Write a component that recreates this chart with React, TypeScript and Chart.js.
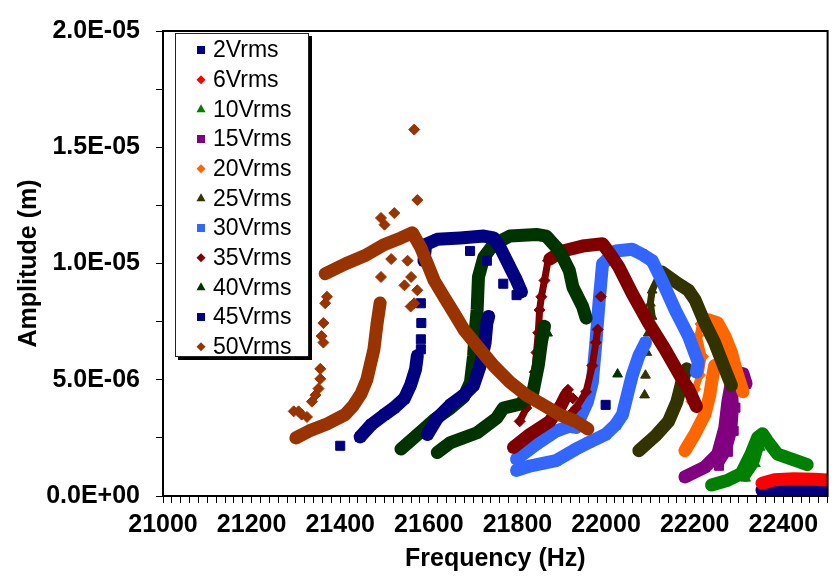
import React, { useEffect, useRef } from 'react';
import { Chart, registerables } from 'chart.js';

Chart.register(...registerables);

// Each point: [frequency (Hz), amplitude (µm, i.e. ×1E-06 m)]
type Pt = [number, number];

// ---- axis settings ----
const X_MIN = 21000;
const X_MAX = 22500;
const X_STEP = 20;
const X_LABEL_STEP = 200;
const Y_MIN = 0;
const Y_MAX = 20;
const Y_STEP = 2.5;
const Y_LABEL_STEP = 5;
const X_TITLE = 'Frequency (Hz)';
const Y_TITLE = 'Amplitude (m)';

// ---- 2Vrms ----
const v2Band: Pt[] = [[22352, 0.25], [22390, 0.25], [22424, 0.25], [22470, 0.25], [22510, 0.25]];

// ---- 6Vrms ----
const v6Band: Pt[] = [[22352, 0.55], [22380, 0.7], [22424, 0.74], [22469, 0.72], [22510, 0.68]];

// ---- 10Vrms ----
const v10Band: Pt[] = [[22238, 0.47], [22275, 0.68], [22305, 0.96], [22327, 1.8], [22342, 2.51], [22353, 2.68], [22364, 2.37], [22387, 1.8], [22424, 1.55], [22454, 1.35]];
const v10Inner: Pt[] = [[22315, 0.76], [22337, 1.38], [22348, 2.09]];

// ---- 15Vrms ----
const v15Band: Pt[] = [[22178, 0.82], [22223, 1.24], [22252, 1.8], [22268, 2.93], [22275, 4.06], [22283, 4.9], [22294, 5.33], [22309, 5.26], [22316, 4.83]];
const v15Inner: Pt[] = [[22255, 1.3], [22275, 1.9], [22288, 2.8], [22292, 3.8], [22290, 4.5]];

// ---- 20Vrms ----
const v20Lower: Pt[] = [[22178, 1.95], [22200, 2.65], [22223, 3.5], [22234, 4.34], [22241, 5.19], [22245, 5.61]];
const v20Upper: Pt[] = [[22230, 7.58], [22252, 7.44], [22268, 6.88], [22283, 6.17], [22297, 5.19], [22309, 4.48]];
const v20Jump: Pt[] = [[22213, 7.4], [22208, 6.9], [22219, 6.0], [22212, 5.2], [22201, 4.6], [22193, 4.06]];

// ---- 25Vrms ----
const v25Lower: Pt[] = [[22074, 1.95], [22111, 2.58], [22141, 3.21], [22160, 4.06], [22171, 4.9], [22182, 5.47]];
const v25Upper: Pt[] = [[22126, 9.63], [22163, 9.13], [22186, 8.85], [22201, 8.43], [22223, 7.44], [22245, 6.6], [22268, 5.47], [22283, 4.76]];
const v25Jump: Pt[] = [[22120, 9.5], [22104, 8.85], [22100, 8.29], [22104, 7.72]];
const v25Dots: Pt[] = [[22095, 7.0], [22092, 6.17], [22089, 5.19], [22087, 4.34]];

// ---- 30Vrms ----
const v30Lower: Pt[] = [[21798, 1.1], [21830, 1.3], [21887, 1.52], [21932, 2.02], [21961, 2.3], [21999, 2.65], [22022, 3.07], [22037, 3.5], [22048, 4.35], [22059, 5.19], [22074, 6.03], [22089, 6.6]];
const v30Upper: Pt[] = [[21798, 1.59], [21843, 2.23], [21887, 2.79], [21917, 3.0], [21932, 2.95], [21958, 4.06], [21969, 4.9], [21977, 6.6], [21984, 8.29], [21992, 9.98], [22022, 10.54], [22059, 10.61], [22081, 10.4], [22104, 10.12], [22126, 9.27], [22156, 8.0], [22186, 6.88], [22208, 5.75], [22204, 5.33]];

// ---- 35Vrms ----
const v35Lower: Pt[] = [[21791, 2.09], [21828, 2.65], [21873, 3.21], [21899, 3.92], [21910, 4.34]];
const v35Upper: Pt[] = [[21873, 10.19], [21902, 10.54], [21947, 10.75], [21992, 10.85], [22007, 10.47], [22029, 9.84], [22059, 8.71], [22096, 7.44], [22133, 6.31], [22171, 5.04], [22186, 4.62], [22204, 3.85]];
const v35Rise: Pt[] = [[21805, 3.21], [21820, 3.78], [21832, 4.48], [21839, 5.33], [21843, 6.17], [21847, 7.02], [21850, 8.0], [21854, 8.57], [21861, 9.27], [21869, 10.12]];
const v35Rise2: Pt[] = [[21921, 3.55], [21932, 3.78], [21955, 4.48], [21969, 5.61], [21977, 6.6], [21981, 7.16]];
const v35Dots: Pt[] = [[21988, 8.58], [21914, 4.57], [21925, 4.2]];

// ---- 40Vrms ----
const v40Upper: Pt[] = [[21537, 2.02], [21575, 2.65], [21612, 3.28], [21649, 3.78], [21679, 4.27], [21694, 4.9], [21701, 6.03], [21705, 7.16], [21709, 8.0], [21712, 9.42], [21724, 10.26], [21746, 10.82], [21783, 11.18], [21843, 11.25], [21865, 11.18], [21895, 10.54], [21917, 9.7], [21925, 8.99], [21947, 8.15], [21955, 7.65]];
const v40Lower: Pt[] = [[21619, 1.87], [21649, 2.3], [21709, 2.72], [21753, 3.35], [21768, 3.78], [21805, 3.95], [21835, 4.48], [21847, 5.61], [21854, 6.6], [21861, 7.3]];
const v40Dots: Pt[] = [[22026, 5.24], [21868, 7.0]];

// ---- 45Vrms ----
const v45Lower: Pt[] = [[21445, 2.54], [21470, 3.07], [21500, 3.5], [21522, 3.8], [21545, 4.2], [21559, 4.78], [21570, 5.45], [21574, 6.03]];
const v45Lower2: Pt[] = [[21597, 2.65], [21619, 3.35], [21649, 3.92], [21679, 4.34], [21701, 4.76], [21716, 5.61], [21727, 6.6], [21731, 7.44], [21735, 7.72]];
const v45Upper: Pt[] = [[21589, 10.12], [21593, 10.82], [21619, 11.04], [21671, 11.1], [21724, 11.18], [21746, 11.1], [21761, 10.68], [21783, 9.84], [21798, 9.27], [21809, 8.78]];
const v45Dots: Pt[] = [[21400, 2.16], [21582, 8.29], [21583, 7.44], [21582, 6.74], [21582, 6.31], [21693, 10.54], [21731, 10.12], [21768, 9.13], [21798, 8.64], [21999, 3.92]];

// ---- 50Vrms ----
const v50Lower: Pt[] = [[21300, 2.5], [21330, 2.8], [21370, 3.1], [21411, 3.5], [21430, 3.9], [21447, 4.4], [21460, 5.0], [21476, 6.3], [21483, 7.4], [21490, 8.3]];
const v50Upper: Pt[] = [[21366, 9.56], [21411, 9.98], [21455, 10.33], [21500, 10.82], [21537, 11.1], [21563, 11.32], [21582, 10.68], [21597, 9.98], [21612, 9.27], [21634, 8.57], [21657, 7.86], [21679, 7.16], [21709, 6.46], [21746, 5.61], [21783, 4.9], [21820, 4.34], [21858, 3.92], [21895, 3.5], [21932, 3.21], [21959, 2.88]];
const v50Dots: Pt[] = [[21295, 3.64], [21306, 3.64], [21313, 3.5], [21325, 3.4], [21336, 4.06], [21344, 4.34], [21351, 4.62], [21355, 5.04], [21355, 5.47], [21362, 6.6], [21358, 6.88], [21362, 7.44], [21366, 8.29], [21370, 8.57], [21489, 8.15], [21485, 7.74], [21492, 9.42], [21515, 10.19], [21492, 11.96], [21522, 12.17], [21500, 11.67], [21574, 12.73], [21567, 15.76], [21552, 10.12], [21560, 9.42], [21574, 8.85], [21567, 8.29], [21559, 8.15], [21545, 9.06]];

type Shape = 'rect' | 'rectRot' | 'triangle';
interface Series {
  label: string;
  color: string;
  shape: Shape;
  bands: Pt[][];
  thin: Pt[][];
  dots: Pt[];
}

const SERIES: Series[] = [
  { label: '2Vrms', color: '#000080', shape: 'rect', bands: [v2Band], thin: [], dots: [] },
  { label: '6Vrms', color: '#FF0000', shape: 'rectRot', bands: [v6Band], thin: [], dots: [] },
  { label: '10Vrms', color: '#008000', shape: 'triangle', bands: [v10Band], thin: [v10Inner], dots: [] },
  { label: '15Vrms', color: '#800080', shape: 'rect', bands: [v15Band], thin: [v15Inner], dots: [] },
  { label: '20Vrms', color: '#FF6600', shape: 'rectRot', bands: [v20Lower, v20Upper], thin: [v20Jump], dots: [] },
  { label: '25Vrms', color: '#333300', shape: 'triangle', bands: [v25Lower, v25Upper], thin: [v25Jump], dots: v25Dots },
  { label: '30Vrms', color: '#3366FF', shape: 'rect', bands: [v30Lower, v30Upper], thin: [], dots: [] },
  { label: '35Vrms', color: '#800000', shape: 'rectRot', bands: [v35Lower, v35Upper], thin: [v35Rise, v35Rise2], dots: v35Dots },
  { label: '40Vrms', color: '#003300', shape: 'triangle', bands: [v40Upper, v40Lower], thin: [], dots: v40Dots },
  { label: '45Vrms', color: '#000080', shape: 'rect', bands: [v45Lower, v45Lower2, v45Upper], thin: [], dots: v45Dots },
  { label: '50Vrms', color: '#993300', shape: 'rectRot', bands: [v50Lower, v50Upper], thin: [], dots: v50Dots },
];

const FONT = '"Liberation Sans", Arial, Helvetica, sans-serif';

const radiusFor = (shape: Shape) => (shape === 'rect' ? 6.4 : shape === 'rectRot' ? 5.5 : 5.6);

function sci(v: number): string {
  if (Math.abs(v) < 1e-9) return '0.0E+00';
  const e = Math.floor(Math.log10(v) + 1e-9);
  const mant = v / Math.pow(10, e);
  const exp = e - 6;
  return `${mant.toFixed(1)}E${exp < 0 ? '-' : '+'}${String(Math.abs(exp)).padStart(2, '0')}`;
}

const toXY = (pts: Pt[]) => pts.map(([x, y]) => ({ x, y }));

function buildDatasets() {
  const out: any[] = [];
  // later series are drawn on top: Chart.js draws dataset 0 last
  for (let i = SERIES.length - 1; i >= 0; i--) {
    const s = SERIES[i];
    const common = {
      label: s.label,
      pointStyle: s.shape,
      pointRadius: radiusFor(s.shape),
      pointHoverRadius: radiusFor(s.shape),
      pointBackgroundColor: s.color,
      pointBorderColor: s.color,
      pointBorderWidth: 1,
      borderColor: s.color,
      backgroundColor: s.color,
      clip: 0,
    };
    s.dots.length && out.push({ ...common, data: toXY(s.dots), showLine: false });
    s.thin.forEach((b) =>
      out.push({ ...common, data: toXY(b), showLine: true, borderWidth: 7, borderJoinStyle: 'round', borderCapStyle: 'round', tension: 0 })
    );
    s.bands.forEach((b) =>
      out.push({ ...common, data: toXY(b), showLine: true, borderWidth: 13, borderJoinStyle: 'round', borderCapStyle: 'round', tension: 0 })
    );
  }
  return out;
}

function drawMarker(ctx: CanvasRenderingContext2D, shape: Shape, x: number, y: number, color: string) {
  ctx.fillStyle = color;
  ctx.beginPath();
  if (shape === 'rect') {
    ctx.rect(x - 4, y - 4, 8, 8);
  } else if (shape === 'rectRot') {
    ctx.moveTo(x - 4.5, y);
    ctx.lineTo(x, y - 4.5);
    ctx.lineTo(x + 4.5, y);
    ctx.lineTo(x, y + 4.5);
    ctx.closePath();
  } else {
    ctx.moveTo(x, y - 5);
    ctx.lineTo(x + 4.5, y + 3);
    ctx.lineTo(x - 4.5, y + 3);
    ctx.closePath();
  }
  ctx.fill();
}

const framePlugin = {
  id: 'plotFrame',
  afterDatasetsDraw(chart: any) {
    const { ctx, chartArea: a } = chart;
    ctx.save();
    ctx.strokeStyle = '#000';
    ctx.lineWidth = 2;
    ctx.strokeRect(a.left, a.top, a.right - a.left, a.bottom - a.top);
    ctx.restore();
  },
};

const legendPlugin = {
  id: 'boxLegend',
  afterDraw(chart: any) {
    const ctx: CanvasRenderingContext2D = chart.ctx;
    const x0 = 175;
    const y0 = 33;
    const w = 134;
    const h = 324;
    ctx.save();
    ctx.fillStyle = '#000';
    ctx.fillRect(x0 + 3, y0 + 3, w, h);
    ctx.fillStyle = '#fff';
    ctx.fillRect(x0, y0, w, h);
    ctx.strokeStyle = '#222';
    ctx.lineWidth = 1;
    ctx.strokeRect(x0 + 0.5, y0 + 0.5, w - 1, h - 1);
    ctx.font = `23px ${FONT}`;
    ctx.textBaseline = 'middle';
    ctx.textAlign = 'left';
    SERIES.forEach((s, i) => {
      const cy = y0 + 17 + i * 29.67;
      drawMarker(ctx, s.shape, 201, cy, s.color);
      ctx.fillStyle = '#000';
      ctx.fillText(s.label, 213, cy + 1);
    });
    ctx.restore();
  },
};

export default function App() {
  const ref = useRef<HTMLCanvasElement | null>(null);

  useEffect(() => {
    if (!ref.current) return;
    const tickFont = { family: FONT, size: 25, weight: 'bold' as const };
    const chart = new Chart(ref.current, {
      type: 'scatter',
      data: { datasets: buildDatasets() },
      options: {
        responsive: false,
        devicePixelRatio: 1,
        animation: false,
        events: [],
        layout: { padding: { left: 0, top: 23, right: 2, bottom: 0 } },
        plugins: { legend: { display: false }, tooltip: { enabled: false } },
        scales: {
          x: {
            type: 'linear',
            min: X_MIN,
            max: X_MAX,
            afterFit: (s: any) => {
              s.height = 81;
            },
            ticks: {
              stepSize: X_STEP,
              autoSkip: false,
              maxRotation: 0,
              minRotation: 0,
              padding: 7,
              color: '#000',
              font: tickFont,
              callback: (v: any) => (Math.round(Number(v)) % X_LABEL_STEP === 0 ? String(Math.round(Number(v))) : ''),
            },
            grid: { display: true, drawOnChartArea: false, drawTicks: true, tickLength: 7, color: '#000', lineWidth: 1 },
            border: { display: true, color: '#000', width: 2 },
            title: { display: true, text: X_TITLE, color: '#000', font: { family: FONT, size: 25, weight: 'bold' }, padding: { top: 0, bottom: 3 } },
          },
          y: {
            type: 'linear',
            min: Y_MIN,
            max: Y_MAX,
            afterFit: (s: any) => {
              s.width = 163;
            },
            ticks: {
              stepSize: Y_STEP,
              autoSkip: false,
              padding: 16,
              color: '#000',
              font: tickFont,
              callback: (v: any) => {
                const n = Number(v);
                return Math.abs(n / Y_LABEL_STEP - Math.round(n / Y_LABEL_STEP)) < 1e-6 ? sci(n) : '';
              },
            },
            grid: { display: true, drawOnChartArea: false, drawTicks: true, tickLength: 7, color: '#000', lineWidth: 1 },
            border: { display: true, color: '#000', width: 2 },
            title: { display: true, text: Y_TITLE, color: '#000', font: { family: FONT, size: 25, weight: 'bold' }, padding: { top: 14, bottom: 0 } },
          },
        },
      },
      plugins: [framePlugin, legendPlugin],
    } as any);
    return () => chart.destroy();
  }, []);

  return (
    <div style={{ position: 'absolute', left: 0, top: 0, width: 835, height: 577, background: '#fff' }}>
      <canvas ref={ref} width={835} height={577} style={{ display: 'block', width: 835, height: 577 }} />
    </div>
  );
}
